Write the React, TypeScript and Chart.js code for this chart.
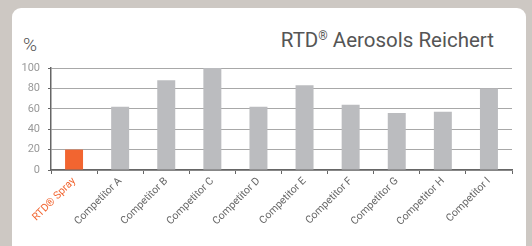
import React, { useEffect, useRef } from "react";
import { Chart, registerables } from "chart.js";

Chart.register(...registerables);

const categories = [
  "RTD® Spray",
  "Competitor A",
  "Competitor B",
  "Competitor C",
  "Competitor D",
  "Competitor E",
  "Competitor F",
  "Competitor G",
  "Competitor H",
  "Competitor I",
];
const values = [20, 62, 88, 100, 62, 83, 64, 56, 57, 80];
const barColors = ["#f26530", "#bbbcbf", "#bbbcbf", "#bbbcbf", "#bbbcbf", "#bbbcbf", "#bbbcbf", "#bbbcbf", "#bbbcbf", "#bbbcbf"];
const labelColors = ["#f26530", "#666", "#666", "#666", "#666", "#666", "#666", "#666", "#666", "#666"];
const yMin = 0;
const yMax = 100;
const yStep = 20;

export default function App() {
  const ref = useRef<HTMLCanvasElement>(null);
  useEffect(() => {
    document.body.style.margin = "0";
    const chart = new Chart(ref.current!, {
      type: "bar",
      data: {
        labels: categories,
        datasets: [
          {
            data: values,
            backgroundColor: barColors,
            barPercentage: 0.39,
            categoryPercentage: 1,
          },
        ],
      },
      options: {
        animation: false,
        responsive: false,
        layout: { padding: { top: 68, right: 20, left: 0, bottom: 0 } },
        plugins: { legend: { display: false }, tooltip: { enabled: false } },
        scales: {
          x: {
            afterFit: (s: any) => {
              s.height = 76;
            },
            grid: {
              drawOnChartArea: false,
              drawTicks: true,
              tickLength: 4,
              tickColor: "#666",
              offset: true,
            },
            border: { color: "#666", width: 1.5 },
            ticks: {
              maxRotation: 45,
              minRotation: 45,
              autoSkip: false,
              padding: 1,
              color: labelColors,
              font: { family: "Roboto", size: 10.5 },
            },
          },
          y: {
            min: yMin,
            max: yMax,
            afterFit: (s: any) => {
              s.width = 51;
            },
            grid: {
              color: "#a8a8a8",
              lineWidth: 1,
              tickLength: 3,
              tickColor: "#666",
              drawTicks: true,
            },
            border: { color: "#666", width: 1.5 },
            ticks: {
              stepSize: yStep,
              padding: 8,
              color: "#999",
              font: { family: "Roboto", size: 11 },
            },
          },
        },
      },
    });
    return () => chart.destroy();
  }, []);

  return (
    <div
      style={{
        position: "fixed",
        left: 0,
        top: 0,
        width: 532,
        height: 246,
        background: "#cdc8c3",
        overflow: "hidden",
      }}
    >
      <div
        style={{
          position: "absolute",
          left: 12,
          top: 8,
          width: 514,
          height: 300,
          background: "#fff",
          borderRadius: 9,
        }}
      />
      <div
        style={{
          position: "absolute",
          left: 23,
          top: 34,
          fontFamily: "Roboto",
          fontWeight: 300,
          fontSize: 19,
          color: "#555",
          lineHeight: "22px",
        }}
      >
        %
      </div>
      <div
        style={{
          position: "absolute",
          right: 38,
          top: 24,
          fontFamily: "Roboto",
          fontSize: 20.5,
          color: "#555",
          lineHeight: "24px",
          whiteSpace: "nowrap",
        }}
      >
        RTD<sup style={{ fontSize: 12, verticalAlign: "7px" }}>®</sup> Aerosols Reichert
      </div>
      <canvas
        ref={ref}
        width={532}
        height={246}
        style={{ position: "absolute", left: 0, top: 0, width: 532, height: 246 }}
      />
    </div>
  );
}
